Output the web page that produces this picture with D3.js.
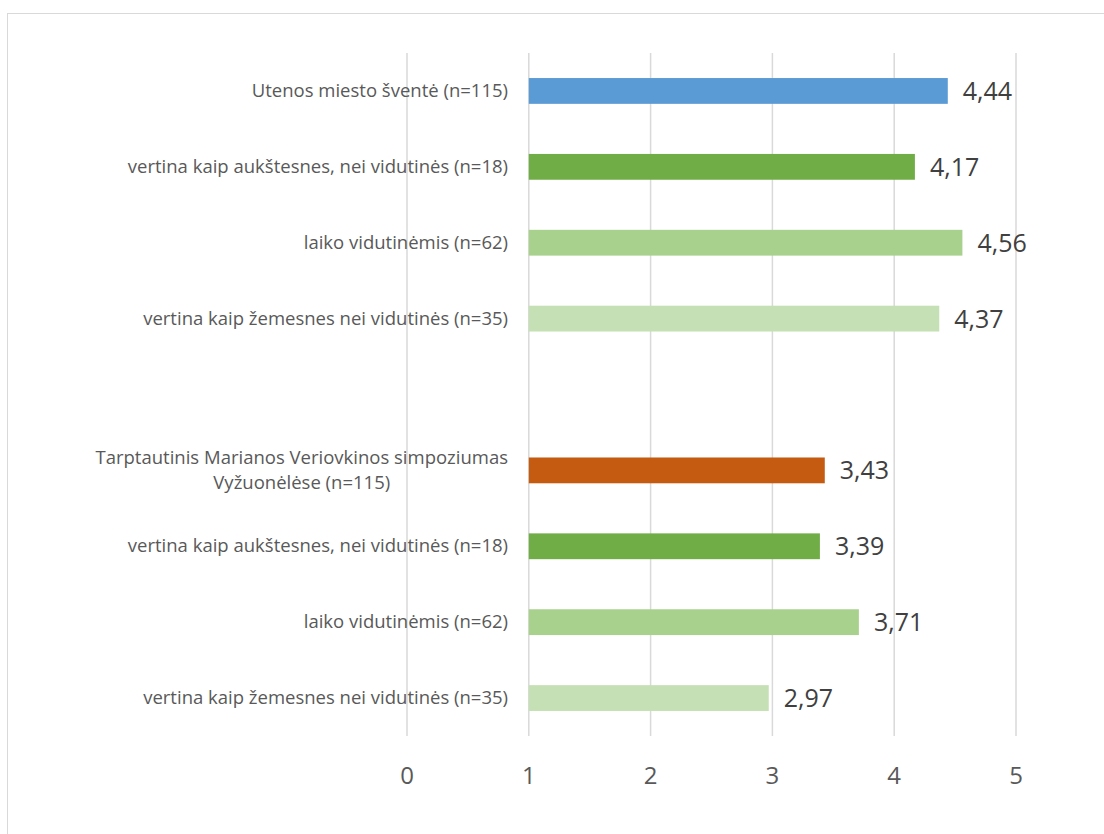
<!DOCTYPE html>
<html lang="lt">
<head>
<meta charset="utf-8">
<script src="https://d3js.org/d3.v7.min.js"></script>
<style>
  body { margin: 0; background: #fff; }
  text { font-family: "Open Sans", Lato, sans-serif; }
</style>
</head>
<body>
<script>
// categories top to bottom; "" is the empty spacer row
var categories = [
  "Utenos miesto šventė (n=115)",
  "vertina kaip aukštesnes, nei vidutinės (n=18)",
  "laiko vidutinėmis (n=62)",
  "vertina kaip žemesnes nei vidutinės (n=35)",
  "",
  "Tarptautinis Marianos Veriovkinos simpoziumas|Vyžuonėlėse (n=115)",
  "vertina kaip aukštesnes, nei vidutinės (n=18)",
  "laiko vidutinėmis (n=62)",
  "vertina kaip žemesnes nei vidutinės (n=35)"
];
var values = [4.44, 4.17, 4.56, 4.37, null, 3.43, 3.39, 3.71, 2.97];
var colors = ["#5B9BD5", "#70AD47", "#A9D18E", "#C5E0B4", null, "#C55A11", "#70AD47", "#A9D18E", "#C5E0B4"];
var ticks = [0, 1, 2, 3, 4, 5];
var baseValue = 1; // axis crosses at 1

var width = 1104, height = 834;
var svg = d3.select("body").append("svg")
    .attr("width", width)
    .attr("height", height);

// chart frame
svg.append("rect")
    .attr("x", 7.5).attr("y", 13.5)
    .attr("width", 1110).attr("height", 840)
    .attr("fill", "none")
    .attr("stroke", "#d9d9d9");

var x = d3.scaleLinear().domain([0, 5]).range([407, 1016]);
var y = d3.scaleBand()
    .domain(d3.range(categories.length))
    .range([53, 736])
    .paddingInner(0.66)
    .paddingOuter(0.33);

// gridlines
svg.append("g").selectAll("line")
    .data(ticks)
    .enter().append("line")
    .attr("x1", function(d) { return x(d); })
    .attr("x2", function(d) { return x(d); })
    .attr("y1", 53).attr("y2", 736)
    .attr("stroke", "#d9d9d9")
    .attr("stroke-width", 1.5);

// tick labels
svg.append("g").selectAll("text")
    .data(ticks)
    .enter().append("text")
    .attr("x", function(d) { return x(d); })
    .attr("y", 784)
    .attr("text-anchor", "middle")
    .attr("font-size", 24)
    .attr("fill", "#595959")
    .text(function(d) { return d; });

var rows = d3.range(categories.length).filter(function(i) { return values[i] != null; });

// bars
svg.append("g").selectAll("rect")
    .data(rows)
    .enter().append("rect")
    .attr("x", x(baseValue))
    .attr("y", function(i) { return y(i); })
    .attr("width", function(i) { return x(values[i]) - x(baseValue); })
    .attr("height", y.bandwidth())
    .attr("fill", function(i) { return colors[i]; });

// value labels
svg.append("g").selectAll("text")
    .data(rows)
    .enter().append("text")
    .attr("x", function(i) { return x(values[i]) + 15; })
    .attr("y", function(i) { return y(i) + y.bandwidth() / 2 + 9; })
    .attr("font-size", 25)
    .attr("fill", "#404040")
    .text(function(i) { return values[i].toFixed(2).replace(".", ","); });

// category labels
var labelRight = 508;
rows.forEach(function(i) {
  var lines = categories[i].split("|");
  var cy = y(i) + y.bandwidth() / 2;
  var lh = 25;
  var t = svg.append("text")
      .attr("font-size", 18.5)
      .attr("fill", "#595959")
      .attr("text-anchor", "middle");
  var spans = lines.map(function(l, k) {
    return t.append("tspan")
        .attr("y", cy + 6 + (k - (lines.length - 1) / 2) * lh)
        .text(l);
  });
  var w = d3.max(spans, function(s) { return s.node().getComputedTextLength(); });
  spans.forEach(function(s) { s.attr("x", labelRight - w / 2); });
});
</script>
</body>
</html>
